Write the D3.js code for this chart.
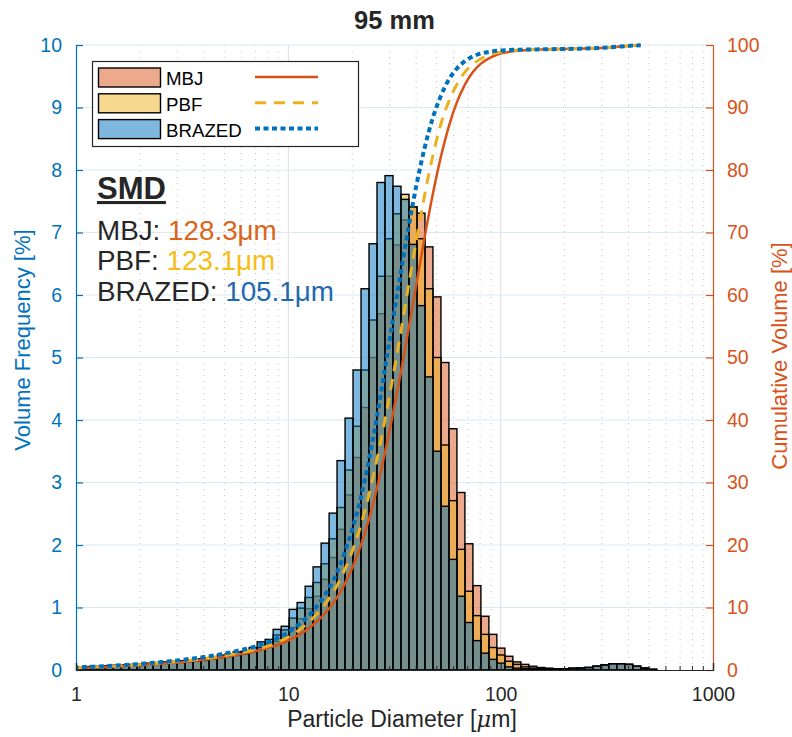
<!DOCTYPE html>
<html>
<head>
<meta charset="utf-8">
<script src="https://cdn.jsdelivr.net/npm/d3@7"></script>
<style>
	body { margin: 0; background: #fff; }
	svg { font-family: "Liberation Sans", Arial, sans-serif; }
</style>
</head>
<body>
<div id="chart"></div>
<script>
// size classes (um), 1/8-octave steps
var binEdges = [0.972, 1.06, 1.156, 1.261, 1.375, 1.499, 1.635, 1.783, 1.945, 2.121, 2.312, 2.522, 2.75, 2.999, 3.27, 3.566,
	3.889, 4.241, 4.625, 5.044, 5.5, 5.998, 6.541, 7.133, 7.778, 8.482, 9.25, 10.09, 11, 12, 13.08, 14.27,
	15.56, 16.96, 18.5, 20.17, 22, 23.99, 26.16, 28.53, 31.11, 33.93, 37, 40.35, 44, 47.98, 52.33, 57.06,
	62.23, 67.86, 74, 80.7, 88, 95.96, 104.7, 114.1, 124.5, 135.7, 148, 161.4, 176, 191.9, 209.3, 228.2,
	248.9, 271.4, 296, 322.8, 352, 383.9, 418.6, 456.5, 497.8, 542.9, 592, 645.6, 704, 767.7, 837.2, 912.9, 995.6];

// volume frequency [%] per class
var mbjFreq = [0.04, 0.04, 0.05, 0.05, 0.06, 0.06, 0.07, 0.07, 0.08, 0.09, 0.10, 0.10, 0.11, 0.12, 0.13, 0.14,
	0.15, 0.17, 0.19, 0.21, 0.23, 0.25, 0.28, 0.33, 0.38, 0.46, 0.55, 0.68, 0.82, 0.98, 1.18, 1.45,
	1.80, 2.25, 2.80, 3.40, 4.20, 5.00, 5.70, 6.30, 6.80, 7.20, 7.41, 7.31, 6.77, 5.97, 4.92, 3.86,
	2.84, 2.02, 1.35, 0.86, 0.57, 0.35, 0.22, 0.13, 0.09, 0.06, 0.04, 0.03, 0.02, 0.02, 0.02, 0.03,
	0.04, 0.06, 0.08, 0.10, 0.10, 0.09, 0.06, 0.03, 0.01, 0, 0, 0, 0, 0, 0, 0];
var pbfFreq = [0.05, 0.05, 0.05, 0.06, 0.06, 0.07, 0.07, 0.08, 0.09, 0.09, 0.10, 0.11, 0.12, 0.13, 0.14, 0.15,
	0.16, 0.18, 0.20, 0.22, 0.24, 0.26, 0.30, 0.36, 0.42, 0.56, 0.64, 0.83, 0.99, 1.16, 1.40, 1.70,
	2.10, 2.60, 3.20, 3.90, 4.80, 5.60, 6.30, 6.90, 7.30, 7.61, 7.41, 6.90, 6.10, 5.00, 3.60, 2.71,
	1.93, 1.26, 0.87, 0.57, 0.36, 0.24, 0.14, 0.09, 0.05, 0.03, 0.02, 0.02, 0.02, 0.02, 0.03, 0.03,
	0.04, 0.06, 0.08, 0.10, 0.10, 0.09, 0.06, 0.03, 0.01, 0, 0, 0, 0, 0, 0, 0];
var brazedFreq = [0.05, 0.05, 0.06, 0.06, 0.07, 0.08, 0.08, 0.09, 0.10, 0.11, 0.12, 0.13, 0.14, 0.15, 0.16, 0.18,
	0.19, 0.21, 0.24, 0.26, 0.29, 0.30, 0.36, 0.45, 0.49, 0.65, 0.70, 0.97, 1.08, 1.34, 1.65, 2.03,
	2.51, 3.35, 4.03, 4.80, 6.10, 6.82, 7.80, 7.91, 7.74, 7.53, 6.81, 5.83, 4.69, 3.50, 2.62, 1.77,
	1.18, 0.76, 0.47, 0.27, 0.17, 0.11, 0.05, 0.03, 0.02, 0.02, 0.02, 0.02, 0.02, 0.02, 0.03, 0.03,
	0.04, 0.06, 0.08, 0.10, 0.10, 0.09, 0.06, 0.03, 0.01, 0, 0, 0, 0, 0, 0, 0];

var seriesNames = ["MBJ", "PBF", "BRAZED"];
var smdValues = ["128.3μm", "123.1μm", "105.1μm"];
var cumStart = [0.3, 0.35, 0.4];   // cumulative below first class [%]
var curveBins = 71;                // cumulative curves stop here

var xTicks = [1, 10, 100, 1000];
var yTicksLeft = [0, 1, 2, 3, 4, 5, 6, 7, 8, 9, 10];
var yTicksRight = [0, 10, 20, 30, 40, 50, 60, 70, 80, 90, 100];

var colors = ["#D95319", "#EDB120", "#0072BD"];
var smdColors = ["#D9661A", "#F8BD14", "#1E69AF"];
var lineStyles = [
	{ width: 2.5, dash: null },
	{ width: 3, dash: "11,8" },
	{ width: 4, dash: "5,3.5" }
];

var margin = { top: 45, right: 79, bottom: 67, left: 76 },
	width = 792 - margin.left - margin.right,
	height = 737 - margin.top - margin.bottom;

var svgRoot = d3.select("#chart")
	.append("svg")
	.attr("width", 792)
	.attr("height", 737);

var svg = svgRoot.append("g")
	.attr("transform", "translate(" + margin.left + "," + margin.top + ")");

svg.append("clipPath")
	.attr("id", "plotclip")
	.append("rect")
	.attr("x", 0).attr("y", -5)
	.attr("width", width).attr("height", height + 5);

var x = d3.scaleLog().domain([1, 1000]).range([0, width]);
var y = d3.scaleLinear().domain([0, 10]).range([height, 0]);
var y2 = d3.scaleLinear().domain([0, 100]).range([height, 0]);

// grid
var minorTicks = x.ticks().filter(function (d) { return xTicks.indexOf(d) < 0; });
svg.append("g").selectAll("line")
	.data(minorTicks)
	.enter().append("line")
	.attr("x1", function (d) { return x(d); }).attr("x2", function (d) { return x(d); })
	.attr("y1", 0).attr("y2", height)
	.attr("stroke", "#c4c4c4").attr("stroke-dasharray", "1,5");
svg.append("g").selectAll("line")
	.data(xTicks.slice(1, 3))
	.enter().append("line")
	.attr("x1", function (d) { return x(d); }).attr("x2", function (d) { return x(d); })
	.attr("y1", 0).attr("y2", height)
	.attr("stroke", "#dedede");
svg.append("g").selectAll("line")
	.data(yTicksLeft.slice(1))
	.enter().append("line")
	.attr("x1", 0).attr("x2", width)
	.attr("y1", function (d) { return y(d); }).attr("y2", function (d) { return y(d); })
	.attr("stroke", "#d9eaf5");

// histograms
var freqs = [mbjFreq, pbfFreq, brazedFreq];
var bars = svg.append("g").attr("clip-path", "url(#plotclip)");
freqs.forEach(function (freq, s) {
	bars.append("g")
		.selectAll("rect")
		.data(freq)
		.enter()
		.append("rect")
		.attr("x", function (d, i) { return x(binEdges[i]); })
		.attr("width", function (d, i) { return x(binEdges[i + 1]) - x(binEdges[i]); })
		.attr("y", function (d) { return y(d); })
		.attr("height", function (d) { return height - y(d); })
		.attr("fill", colors[s])
		.attr("fill-opacity", 0.5)
		.attr("stroke", "#000")
		.attr("stroke-width", 1.4);
});

// cumulative curves (right axis)
function cumulative(freq, start) {
	var total = d3.sum(freq);
	var pts = [{ d: binEdges[0], v: start }];
	var run = 0;
	freq.forEach(function (f, i) {
		run += f;
		if (i < curveBins) pts.push({ d: binEdges[i + 1], v: start + (100 - start) * run / total });
	});
	return pts;
}
var line = d3.line()
	.x(function (p) { return x(p.d); })
	.y(function (p) { return y2(p.v); })
	.curve(d3.curveMonotoneX);
var curves = svg.append("g").attr("clip-path", "url(#plotclip)");
freqs.forEach(function (freq, s) {
	curves.append("path")
		.datum(cumulative(freq, cumStart[s]))
		.attr("d", line)
		.attr("fill", "none")
		.attr("stroke", colors[s])
		.attr("stroke-width", lineStyles[s].width)
		.attr("stroke-dasharray", lineStyles[s].dash);
});

// axes
var leftAxis = svg.append("g")
	.call(d3.axisLeft(y).tickValues(yTicksLeft).tickSize(-7).tickPadding(14).tickFormat(d3.format("d")));
leftAxis.selectAll("path, line").attr("stroke", "#0072BD").attr("stroke-width", 1.2);
leftAxis.selectAll("text").attr("fill", "#0072BD").style("font-size", "19.5px");

var rightAxis = svg.append("g")
	.attr("transform", "translate(" + width + ",0)")
	.call(d3.axisRight(y2).tickValues(yTicksRight).tickSize(-7).tickPadding(14).tickFormat(d3.format("d")));
rightAxis.selectAll("path, line").attr("stroke", "#D95319").attr("stroke-width", 1.2);
rightAxis.selectAll("text").attr("fill", "#D95319").style("font-size", "19.5px");

var bottomAxis = svg.append("g")
	.attr("transform", "translate(0," + height + ")")
	.call(d3.axisBottom(x).tickValues(xTicks).tickSize(-7).tickPadding(17).tickFormat(d3.format("d")));
bottomAxis.selectAll("path, line").attr("stroke", "#262626").attr("stroke-width", 1.2);
bottomAxis.selectAll("text").attr("fill", "#262626").style("font-size", "19.5px");
svg.append("g").selectAll("line")
	.data(minorTicks)
	.enter().append("line")
	.attr("x1", function (d) { return x(d); }).attr("x2", function (d) { return x(d); })
	.attr("y1", height).attr("y2", height - 4)
	.attr("stroke", "#262626");

// labels
svgRoot.append("text")
	.attr("x", margin.left + width / 2).attr("y", 29)
	.attr("text-anchor", "middle")
	.style("font-size", "25.5px").style("font-weight", "bold").attr("fill", "#262626")
	.text("95 mm");

var xLabel = svgRoot.append("text")
	.attr("x", 402).attr("y", 727)
	.attr("text-anchor", "middle")
	.style("font-size", "23px").attr("fill", "#262626");
xLabel.append("tspan").text("Particle Diameter [");
xLabel.append("tspan").style("font-style", "italic").style("font-family", "'DejaVu Serif', serif").text("μ");
xLabel.append("tspan").text("m]");

svgRoot.append("text")
	.attr("transform", "translate(30,340) rotate(-90)")
	.attr("text-anchor", "middle")
	.style("font-size", "22px").attr("fill", "#0072BD")
	.text("Volume Frequency [%]");

svgRoot.append("text")
	.attr("transform", "translate(787,356) rotate(-90)")
	.attr("text-anchor", "middle")
	.style("font-size", "22px").attr("fill", "#D95319")
	.text("Cumulative Volume [%]");

// legend
var legend = svgRoot.append("g").attr("transform", "translate(92.5,61.5)");
legend.append("rect")
	.attr("width", 266).attr("height", 85)
	.attr("fill", "#fff").attr("stroke", "#262626").attr("stroke-width", 1.2);
seriesNames.forEach(function (name, s) {
	var row = legend.append("g").attr("transform", "translate(0," + (s * 25.8) + ")");
	row.append("rect")
		.attr("x", 6).attr("y", 6.5).attr("width", 62).attr("height", 19)
		.attr("fill", colors[s]).attr("fill-opacity", 0.5)
		.attr("stroke", "#000").attr("stroke-width", 1.4);
	row.append("text")
		.attr("x", 73.5).attr("y", 23.5)
		.style("font-size", "18.7px").attr("fill", "#000")
		.text(name);
	row.append("line")
		.attr("x1", 162.5).attr("x2", 225.5).attr("y1", 15.5).attr("y2", 15.5)
		.attr("stroke", colors[s])
		.attr("stroke-width", lineStyles[s].width)
		.attr("stroke-dasharray", lineStyles[s].dash);
});

// SMD annotation
svgRoot.append("text")
	.attr("x", 97).attr("y", 199)
	.style("font-size", "31px").style("font-weight", "bold")
	.style("text-decoration", "underline").attr("fill", "#262626")
	.text("SMD");
seriesNames.forEach(function (name, s) {
	var t = svgRoot.append("text")
		.attr("x", 97).attr("y", 239.5 + s * 30.8)
		.style("font-size", "27.8px");
	t.append("tspan").attr("fill", "#262626").text(name + ": ");
	t.append("tspan").attr("fill", smdColors[s]).text(smdValues[s]);
});
</script>
</body>
</html>
